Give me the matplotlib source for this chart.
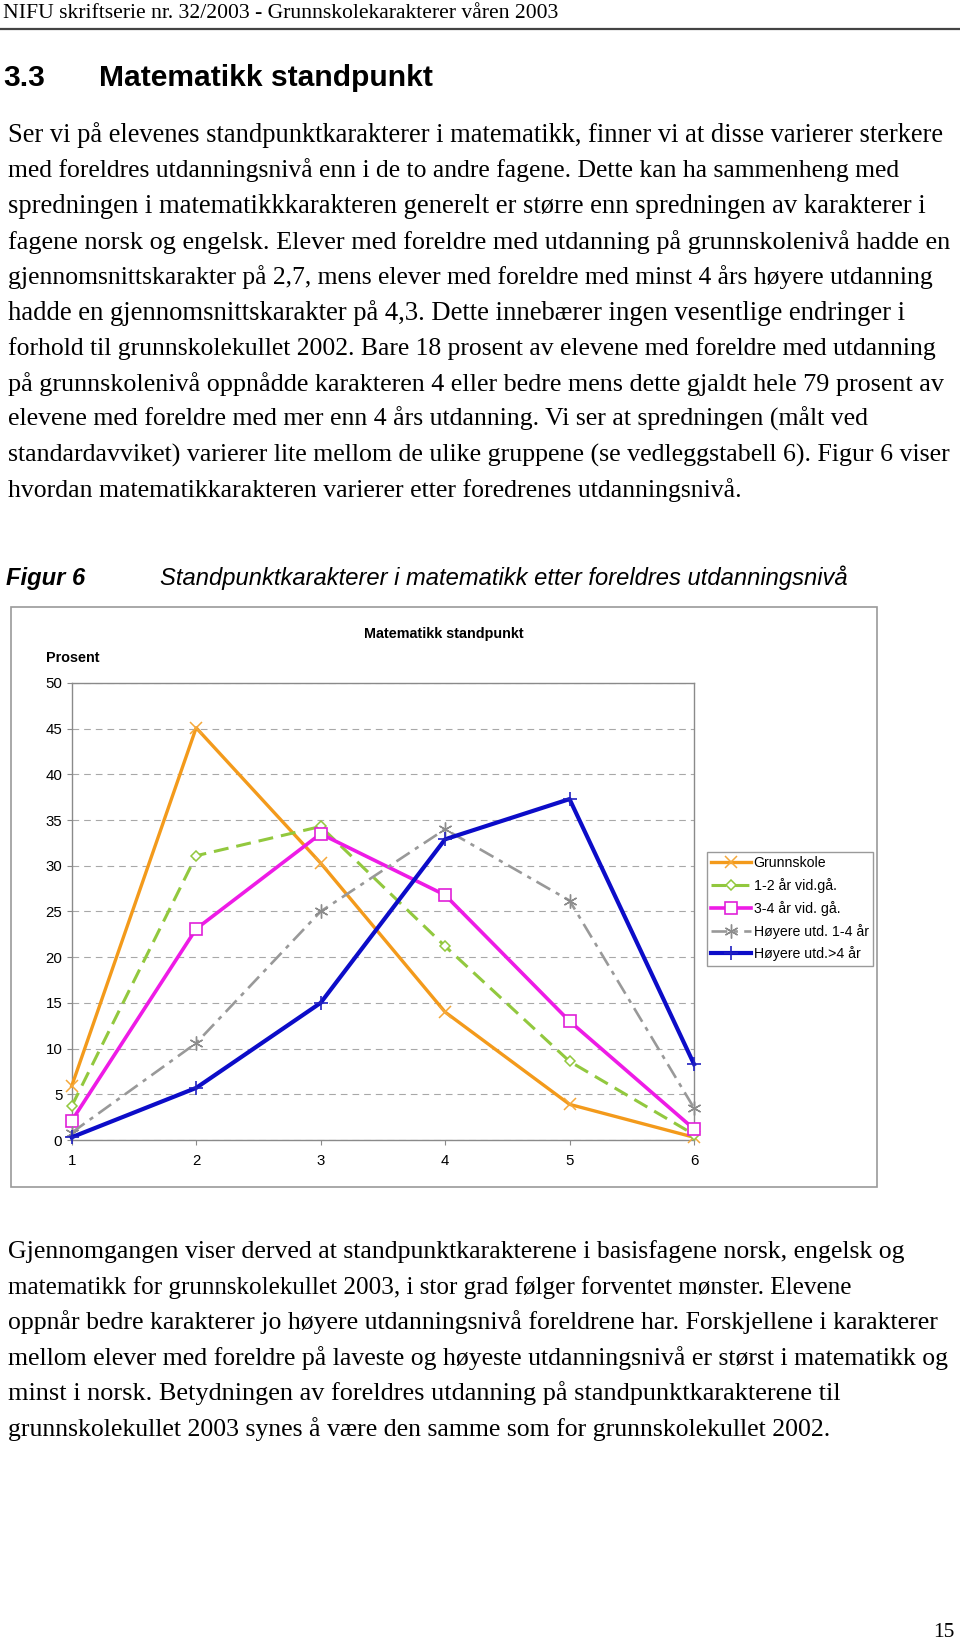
import matplotlib
matplotlib.use('Agg')
import matplotlib.pyplot as plt
from matplotlib.lines import Line2D
from matplotlib.patches import Rectangle

# data (prosent per karakter)
karakter = [1, 2, 3, 4, 5, 6]
grunnskole = [5.9, 45.1, 30.3, 14.0, 3.9, 0.3]
vgs_1_2 = [3.7, 31.1, 34.3, 21.2, 8.6, 0.6]
vgs_3_4 = [2.1, 23.1, 33.5, 26.8, 13.0, 1.2]
hoyere_1_4 = [0.8, 10.6, 25.0, 34.0, 26.2, 3.5]
hoyere_4 = [0.3, 5.7, 15.0, 32.9, 37.3, 8.3]
serie_navn = ['Grunnskole', '1-2 år vid.gå.', '3-4 år vid. gå.',
              'Høyere utd. 1-4 år', 'Høyere utd.>4 år']
yticks = [0, 5, 10, 15, 20, 25, 30, 35, 40, 45, 50]

avsnitt1 = [
    "Ser vi på elevenes standpunktkarakterer i matematikk, finner vi at disse varierer sterkere",
    "med foreldres utdanningsnivå enn i de to andre fagene. Dette kan ha sammenheng med",
    "spredningen i matematikkkarakteren generelt er større enn spredningen av karakterer i",
    "fagene norsk og engelsk. Elever med foreldre med utdanning på grunnskolenivå hadde en",
    "gjennomsnittskarakter på 2,7, mens elever med foreldre med minst 4 års høyere utdanning",
    "hadde en gjennomsnittskarakter på 4,3. Dette innebærer ingen vesentlige endringer i",
    "forhold til grunnskolekullet 2002. Bare 18 prosent av elevene med foreldre med utdanning",
    "på grunnskolenivå oppnådde karakteren 4 eller bedre mens dette gjaldt hele 79 prosent av",
    "elevene med foreldre med mer enn 4 års utdanning. Vi ser at spredningen (målt ved",
    "standardavviket) varierer lite mellom de ulike gruppene (se vedleggstabell 6). Figur 6 viser",
    "hvordan matematikkarakteren varierer etter foredrenes utdanningsnivå.",
]
avsnitt2 = [
    "Gjennomgangen viser derved at standpunktkarakterene i basisfagene norsk, engelsk og",
    "matematikk for grunnskolekullet 2003, i stor grad følger forventet mønster. Elevene",
    "oppnår bedre karakterer jo høyere utdanningsnivå foreldrene har. Forskjellene i karakterer",
    "mellom elever med foreldre på laveste og høyeste utdanningsnivå er størst i matematikk og",
    "minst i norsk. Betydningen av foreldres utdanning på standpunktkarakterene til",
    "grunnskolekullet 2003 synes å være den samme som for grunnskolekullet 2002.",
]
# where each line ends on the page (px), used to size the serif text
slutt1 = [954, 907, 935, 953, 941, 913, 941, 952, 872, 954, 745]
slutt2 = [908, 856, 942, 953, 846, 833]

W, H = 960, 1642
fig = plt.figure(figsize=(W / 100, H / 100), dpi=100)
rend = fig.canvas.get_renderer()
serif = 'Liberation Serif'
sans = 'Liberation Sans'


def put(x, y, s, width=None, **kw):
    t = fig.text(x / W, 1 - y / H, s, va='baseline', **kw)
    if width:
        w = t.get_window_extent(rend).width
        t.set_fontsize(t.get_fontsize() * width / w)
    return t


# page header
put(3, 18, "NIFU skriftserie nr. 32/2003 - Grunnskolekarakterer våren 2003",
    width=557, family=serif, fontsize=14)
fig.add_artist(Line2D([0, 1], [1 - 29 / H] * 2, color='#444444', lw=1.6))

h = put(99, 86, "Matematikk standpunkt", width=333, family=sans,
        weight='bold', fontsize=20)
put(3, 86, "3.3", family=sans, weight='bold', fontsize=h.get_fontsize())

for i, (linje, x1) in enumerate(zip(avsnitt1, slutt1)):
    put(8, 142 + 35.5 * i, linje, width=x1 - 8, family=serif, fontsize=15)

ft = put(160, 585, "Standpunktkarakterer i matematikk etter foreldres utdanningsnivå",
         width=690, family=sans, style='italic', fontsize=15)
put(6, 585, "Figur 6", family=sans, style='italic', weight='bold',
    fontsize=ft.get_fontsize())

for i, (linje, x1) in enumerate(zip(avsnitt2, slutt2)):
    put(8, 1258 + 35.6 * i, linje, width=x1 - 8, family=serif, fontsize=15)

put(955, 1637, "15", family=serif, fontsize=15.5, ha='right')

# chart frame
fig.add_artist(Rectangle((11 / W, 1 - 1187 / H), 866 / W, 580 / H,
                         transform=fig.transFigure, fill=False,
                         edgecolor='#9a9a9a', lw=1.2))
put(444, 638, "Matematikk standpunkt", family=sans, weight='bold',
    fontsize=10.4, ha='center')
put(46, 662, "Prosent", family=sans, weight='bold', fontsize=10.4)

ax = fig.add_axes([71.7 / W, 1 - 1140 / H, (694 - 71.7) / W, (1140 - 683) / H])
ax.set_xlim(1, 6)
ax.set_ylim(0, 50)
ax.set_yticks(yticks)
ax.set_xticks(karakter)
for s in ax.spines.values():
    s.set_color('#8a8a8a')
    s.set_linewidth(1.0)
ax.yaxis.grid(True, color='#a8a8a8', lw=0.8, dashes=(6, 4.5))
ax.set_axisbelow(True)
ax.tick_params(axis='both', direction='out', length=3.4, width=0.8,
               color='#8a8a8a', labelsize=10.8, labelfontfamily=sans)
ax.tick_params(axis='y', pad=3.4)
ax.tick_params(axis='x', pad=7.0)

ax.plot(karakter, grunnskole, color='#F39A1B', lw=2.4, marker='x', ms=9,
        mew=1.1, mec='#F5A83A', clip_on=False, label=serie_navn[0], zorder=3)
ax.plot(karakter, vgs_1_2, color='#92C83E', lw=2.2, dashes=(4.9, 2.6),
        marker='D', ms=5.5, mfc='white', mec='#92C83E', mew=1.1,
        clip_on=False, label=serie_navn[1], zorder=3)
ax.plot(karakter, vgs_3_4, color='#EE1BE6', lw=2.6, marker='s', ms=8,
        mfc='white', mec='#E020D8', mew=1.2, clip_on=False,
        label=serie_navn[2], zorder=3)
ax.plot(karakter, hoyere_1_4, color='#999999', lw=1.9,
        dashes=(6, 2.4, 1.6, 2.4), marker=(6, 2, 0), ms=10, mew=1.0,
        mec='#8c8c8c', clip_on=False, label=serie_navn[3], zorder=3)
ax.plot(karakter, hoyere_4, color='#0C0CC8', lw=3.0, marker='+', ms=10,
        mew=1.2, mec='#2020C0', clip_on=False, label=serie_navn[4], zorder=3)

leg = ax.legend(loc='upper left', bbox_to_anchor=(707 / W, 1 - 852 / H),
                bbox_transform=fig.transFigure, borderaxespad=0,
                fancybox=False, framealpha=1, edgecolor='#9a9a9a',
                prop={'family': sans, 'size': 10.2}, handlelength=2.8,
                handletextpad=0.2, borderpad=0.3, labelspacing=0.55)
leg.get_frame().set_linewidth(1.0)

fig.savefig('out.png', dpi=100)
